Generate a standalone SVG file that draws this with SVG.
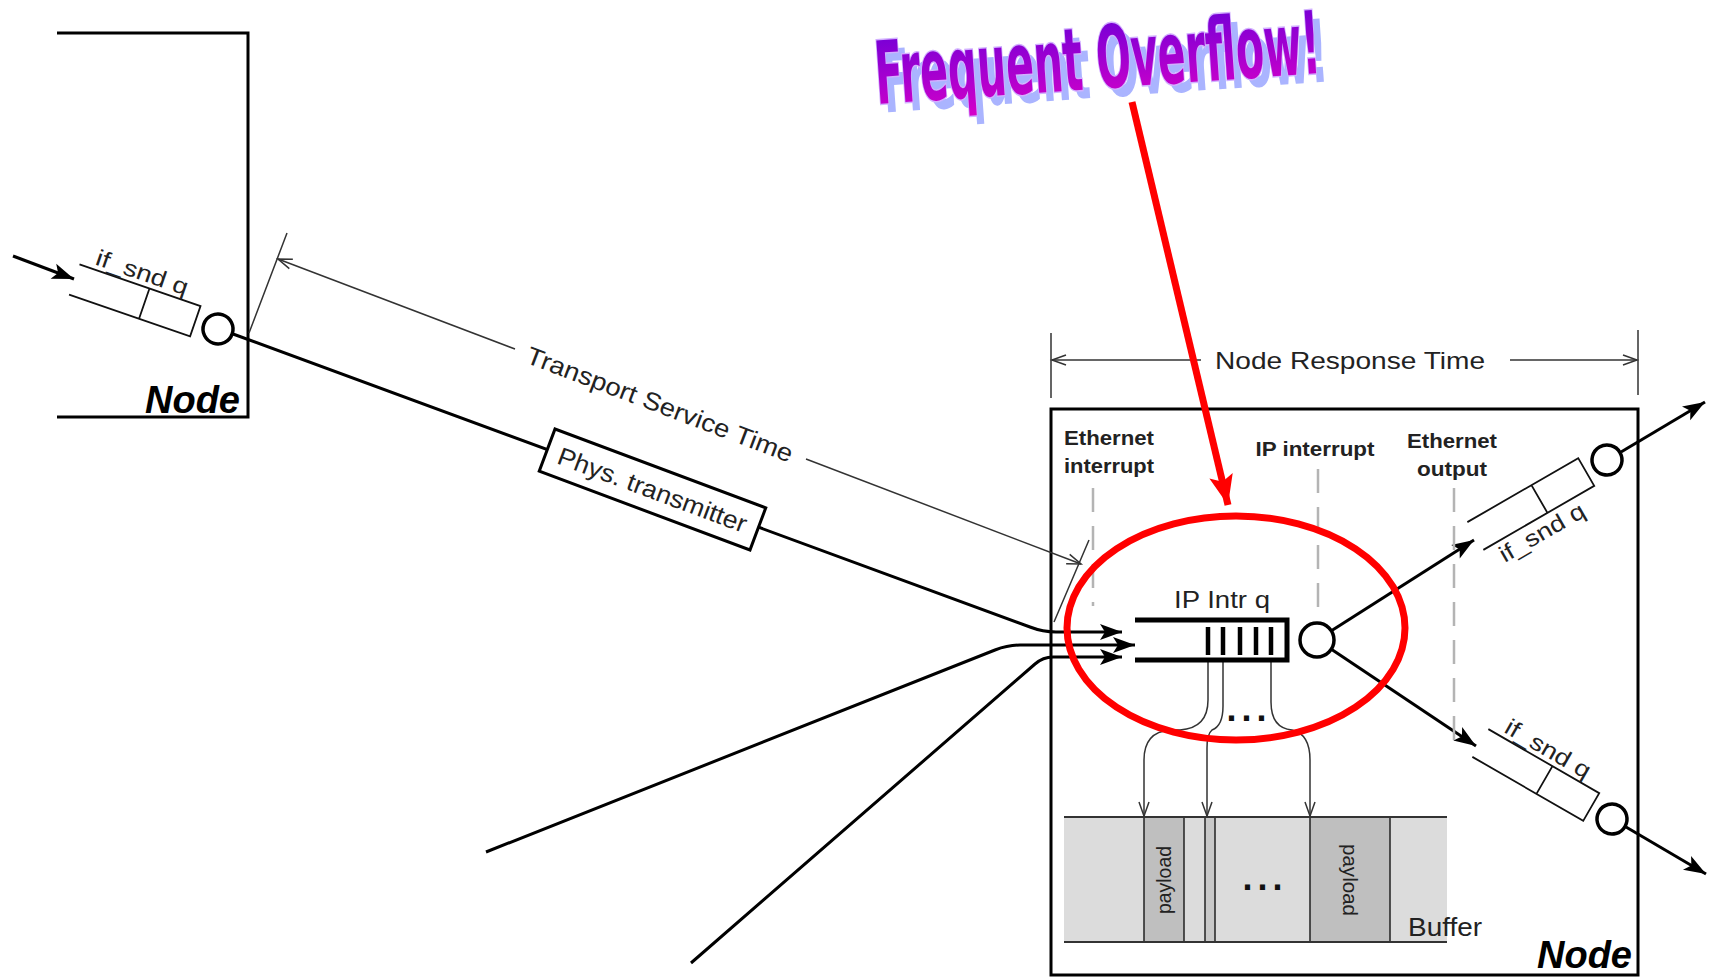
<svg xmlns="http://www.w3.org/2000/svg" width="1712" height="977" viewBox="0 0 1712 977">
<defs>
<marker id="af" markerUnits="userSpaceOnUse" markerWidth="24" markerHeight="18" refX="22" refY="8" orient="auto" overflow="visible">
<path d="M0,0 L22,8 L0,16 L5,8 z" fill="#000"/>
</marker>
<marker id="ao" markerUnits="userSpaceOnUse" markerWidth="16" markerHeight="12" refX="14" refY="5" orient="auto-start-reverse" overflow="visible">
<path d="M0,0 L14,5 L0,10" fill="none" stroke="#333" stroke-width="1.5"/>
</marker>
<marker id="ar" markerUnits="userSpaceOnUse" markerWidth="34" markerHeight="28" refX="30" refY="12" orient="auto" overflow="visible">
<path d="M0,0 L30,12 L0,24 L6,12 z" fill="#ff0000"/>
</marker>
<linearGradient id="wa" x1="0" y1="0" x2="0" y2="1">
<stop offset="0" stop-color="#6a00d8"/>
<stop offset="1" stop-color="#d800c8"/>
</linearGradient>
<style>
.t{font-family:"Liberation Sans",Arial,sans-serif;fill:#222}
.b{font-family:"Liberation Sans",Arial,sans-serif;font-weight:bold;fill:#222;font-size:20px}
.nd{font-family:"Liberation Sans",Arial,sans-serif;font-weight:bold;font-style:italic;font-size:38px;fill:#000}
.ln{stroke:#000;stroke-width:3;fill:none}
.dim{stroke:#333;stroke-width:1.5;fill:none}
.dash{stroke:#b4b4b4;stroke-width:2.5;stroke-dasharray:24 14;fill:none}
.q{stroke:#111;stroke-width:1.8;fill:none}
.qc{stroke:#000;stroke-width:3.5;fill:#fff}
.thin{stroke:#333;stroke-width:1.5;fill:none}
.dots{font-family:"Liberation Sans",Arial,sans-serif;font-weight:bold;font-size:36px;fill:#111;letter-spacing:5px}
.wa{font-family:"Liberation Sans Narrow","DejaVu Sans Condensed","Liberation Sans",sans-serif;font-weight:bold;font-size:60px}
</style>
</defs>

<g id="connectors">
<path class="ln" d="M13,256 L74,279" marker-end="url(#af)"/>
<path class="ln" d="M233,334 L1030,627 Q1043,632 1056,632 L1122,632" marker-end="url(#af)"/>
<path class="ln" d="M486,852 L995,650 Q1008,645 1020,645 L1135,645" marker-end="url(#af)"/>
<path class="ln" d="M691,963 L1035,664 Q1043,657 1053,657 L1122,657" marker-end="url(#af)"/>
<path class="ln" d="M1331,631 L1474,540" marker-end="url(#af)"/>
<path class="ln" d="M1331,649 L1476,746" marker-end="url(#af)"/>
<path class="ln" d="M1621,452 L1705,402" marker-end="url(#af)"/>
<path class="ln" d="M1626,827 L1706,874" marker-end="url(#af)"/>
<path class="thin" d="M1208,660 V700 Q1208,728 1180,730 H1170 Q1144,732 1144,760 V816" marker-end="url(#ao)"/>
<path class="thin" d="M1223,660 V706 Q1223,726 1212,730 Q1207,734 1207,748 V816" marker-end="url(#ao)"/>
<path class="thin" d="M1271,660 V702 Q1271,728 1292,730 Q1310,734 1310,760 V816" marker-end="url(#ao)"/>
<text class="dots" x="1249" y="721" text-anchor="middle">...</text>
</g>

<g id="left-node">
<path d="M57,33 H248 V417 H57" class="ln" stroke-width="3.5"/>
<text class="nd" x="240" y="413" text-anchor="end">Node</text>
</g>

<g id="left-queue" transform="translate(218,329) rotate(19)">
<path class="q" d="M-152,-16 H-24 V16 H-152 M-78,-16 V16"/>
<circle class="qc" cx="0" cy="0" r="15"/>
<text class="t" x="-138" y="-21" font-size="23" textLength="96" lengthAdjust="spacingAndGlyphs">if_snd q</text>
</g>

<g id="phys-transmitter" transform="translate(652.5,489.5) rotate(20.5)">
<rect x="-112.5" y="-22.5" width="225" height="45" fill="#fff" stroke="#000" stroke-width="3"/>
<text class="t" x="0" y="9" font-size="25" text-anchor="middle" textLength="200" lengthAdjust="spacingAndGlyphs">Phys. transmitter</text>
</g>

<g id="right-node">
<rect x="1051" y="409" width="587" height="566" fill="none" stroke="#000" stroke-width="3"/>
<text class="nd" x="1632" y="968" text-anchor="end">Node</text>
<text class="b" x="1109" y="445" text-anchor="middle" textLength="90" lengthAdjust="spacingAndGlyphs">Ethernet</text>
<text class="b" x="1109" y="473" text-anchor="middle" textLength="90" lengthAdjust="spacingAndGlyphs">interrupt</text>
<text class="b" x="1315" y="456" text-anchor="middle" textLength="119" lengthAdjust="spacingAndGlyphs">IP interrupt</text>
<text class="b" x="1452" y="448" text-anchor="middle" textLength="90" lengthAdjust="spacingAndGlyphs">Ethernet</text>
<text class="b" x="1452" y="476" text-anchor="middle" textLength="70" lengthAdjust="spacingAndGlyphs">output</text>
<path class="dash" d="M1093,488 V606 M1318,469 V617 M1454,488 V748"/>
</g>

<g id="ip-intr-q">
<text class="t" x="1222" y="608" font-size="23" text-anchor="middle" textLength="96" lengthAdjust="spacingAndGlyphs">IP Intr q</text>
<path d="M1135,620 H1287 V660 H1135" fill="none" stroke="#000" stroke-width="5"/>
<path d="M1208,627 V655 M1223,627 V655 M1240,627 V655 M1256,627 V655 M1271,627 V655" stroke="#000" stroke-width="4.5"/>
<circle class="qc" cx="1317" cy="640" r="17" stroke-width="4"/>
</g>

<g id="buffer">
<rect x="1064" y="817" width="383" height="125" fill="#dcdcdc"/>
<rect x="1144" y="817" width="40" height="125" fill="#bfbfbf" stroke="#222" stroke-width="1.5"/>
<rect x="1205" y="817" width="10" height="125" fill="#c8c8c8" stroke="#222" stroke-width="1.5"/>
<rect x="1310" y="817" width="80" height="125" fill="#bfbfbf" stroke="#222" stroke-width="1.5"/>
<path d="M1064,817 H1447 M1064,942 H1447" stroke="#333" stroke-width="2"/>
<text class="t" transform="translate(1164,880) rotate(-90)" y="7" font-size="21" text-anchor="middle" textLength="68" lengthAdjust="spacingAndGlyphs">payload</text>
<text class="t" transform="translate(1350,880) rotate(90)" y="7" font-size="21" text-anchor="middle" textLength="72" lengthAdjust="spacingAndGlyphs">payload</text>
<text class="dots" x="1265" y="890" text-anchor="middle">...</text>
<text class="t" x="1408" y="936" font-size="25" textLength="74" lengthAdjust="spacingAndGlyphs">Buffer</text>
</g>

<g id="upper-right-queue" transform="translate(1607,460) rotate(-30)">
<path class="q" d="M-152,-16 H-24 V16 H-152 M-78,-16 V16"/>
<circle class="qc" cx="0" cy="0" r="15"/>
<text class="t" x="-140" y="38" font-size="23" textLength="95" lengthAdjust="spacingAndGlyphs">if_snd q</text>
</g>

<g id="lower-right-queue" transform="translate(1612,819) rotate(30)">
<path class="q" d="M-152,-16 H-24 V16 H-152 M-78,-16 V16"/>
<circle class="qc" cx="0" cy="0" r="15"/>
<text class="t" x="-138" y="-21" font-size="23" textLength="95" lengthAdjust="spacingAndGlyphs">if_snd q</text>
</g>

<g id="transport-dimension">
<path class="dim" d="M249,333 L287,233 M1054,622 L1089,540"/>
<path class="dim" d="M515,349 L278,259" marker-end="url(#ao)"/>
<path class="dim" d="M806,459 L1081,564" marker-end="url(#ao)"/>
<text class="t" transform="translate(660,404) rotate(20.8)" y="9" font-size="25" fill="#333" text-anchor="middle" textLength="283" lengthAdjust="spacingAndGlyphs">Transport Service Time</text>
</g>

<g id="node-response-dimension">
<path class="dim" d="M1051,333 V398 M1638,330 V395"/>
<path class="dim" d="M1201,360 L1052,360" marker-end="url(#ao)"/>
<path class="dim" d="M1510,360 L1637,360" marker-end="url(#ao)"/>
<text class="t" x="1350" y="369" font-size="24" fill="#333" text-anchor="middle" textLength="270" lengthAdjust="spacingAndGlyphs">Node Response Time</text>
</g>

<g id="overflow-callout">
<ellipse cx="1236" cy="628" rx="169" ry="112" fill="none" stroke="#ff0000" stroke-width="7"/>
<path d="M1132,102 L1228,505" stroke="#ff0000" stroke-width="7" fill="none" marker-end="url(#ar)"/>
<g transform="translate(877,104) rotate(-4)">
<g transform="translate(7,9) scale(1,1.45)">
<text class="wa" x="0" y="0" fill="#aab4ff" textLength="446" lengthAdjust="spacingAndGlyphs">Frequent Overflow!</text>
</g>
<g transform="scale(1,1.45)">
<text class="wa" x="0" y="0" fill="url(#wa)" stroke="#d2b0ff" stroke-width="2" paint-order="stroke" textLength="446" lengthAdjust="spacingAndGlyphs">Frequent Overflow!</text>
</g>
</g>
</g>
</svg>
